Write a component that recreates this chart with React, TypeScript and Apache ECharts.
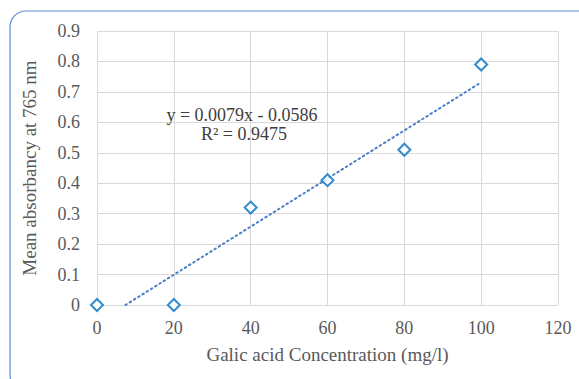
import React, { useEffect, useRef } from "react";
import * as echarts from "echarts";

const concentrations = [0, 20, 40, 60, 80, 100];
const absorbances = [0, 0, 0.32, 0.41, 0.51, 0.79];
const trendX = [7.42, 100];
const trendY = [0, 0.7314];
const equationLines = ["y = 0.0079x - 0.0586", "R² = 0.9475"];
const xTitle = "Galic acid Concentration (mg/l)";
const yTitle = "Mean absorbancy at 765 nm";

export default function App() {
  const ref = useRef<HTMLDivElement>(null);
  useEffect(() => {
    if (!ref.current) return;
    const chart = echarts.init(ref.current, null, { renderer: "svg" });
    const font = "'Liberation Serif', 'Times New Roman', serif";
    chart.setOption({
      animation: false,
      backgroundColor: "#ffffff",
      grid: { left: 97, right: 21, top: 31, bottom: 74, containLabel: false },
      xAxis: {
        type: "value",
        min: 0,
        max: 120,
        interval: 20,
        name: xTitle,
        nameLocation: "middle",
        nameGap: 40,
        nameTextStyle: { fontFamily: font, fontSize: 19, color: "#595959" },
        axisLine: { show: false },
        axisTick: { show: false },
        axisLabel: { fontFamily: font, fontSize: 18, color: "#595959", margin: 14 },
        splitLine: { show: true, lineStyle: { color: "#d9d9d9", width: 1 } },
      },
      yAxis: {
        type: "value",
        min: 0,
        max: 0.9,
        interval: 0.1,
        name: yTitle,
        nameLocation: "middle",
        nameGap: 58,
        nameTextStyle: { fontFamily: font, fontSize: 19, color: "#595959" },
        axisLine: { show: false },
        axisTick: { show: false },
        axisLabel: { fontFamily: font, fontSize: 18, color: "#595959", margin: 17 },
        splitLine: { show: true, lineStyle: { color: "#d9d9d9", width: 1 } },
      },
      series: [
        {
          type: "line",
          data: trendX.map((x, i) => [x, trendY[i]]),
          showSymbol: false,
          symbol: "none",
          lineStyle: { color: "#4a7ec7", width: 2, type: [1.5, 3.5], cap: "round" },
          z: 1,
        },
        {
          type: "scatter",
          data: concentrations.map((x, i) => [x, absorbances[i]]),
          symbol: "diamond",
          symbolSize: [12, 12],
          itemStyle: { color: "#ffffff", borderColor: "#0070c0", borderWidth: 2 },
          z: 3,
        },
      ],
      graphic: [
        {
          type: "rect",
          shape: { x: 10, y: 11, width: 620, height: 380, r: [16, 0, 0, 16] },
          style: { fill: "none", stroke: "#5b8fd6", lineWidth: 1.2 },
          silent: true,
          z: 0,
        },
        {
          type: "text",
          x: 242,
          y: 115,
          style: {
            text: equationLines[0],
            fontFamily: font,
            fontSize: 18,
            lineHeight: 18,
            fill: "#404040",
            textAlign: "center",
            textVerticalAlign: "middle",
          },
          z: 10,
        },
        {
          type: "text",
          x: 244,
          y: 134,
          style: {
            text: equationLines[1],
            fontFamily: font,
            fontSize: 18,
            lineHeight: 18,
            fill: "#404040",
            textAlign: "center",
            textVerticalAlign: "middle",
          },
          z: 10,
        },
      ],
    });
    return () => chart.dispose();
  }, []);
  return (
    <div
      ref={ref}
      style={{ position: "fixed", left: 0, top: 0, width: 579, height: 379, background: "#fff" }}
    />
  );
}
